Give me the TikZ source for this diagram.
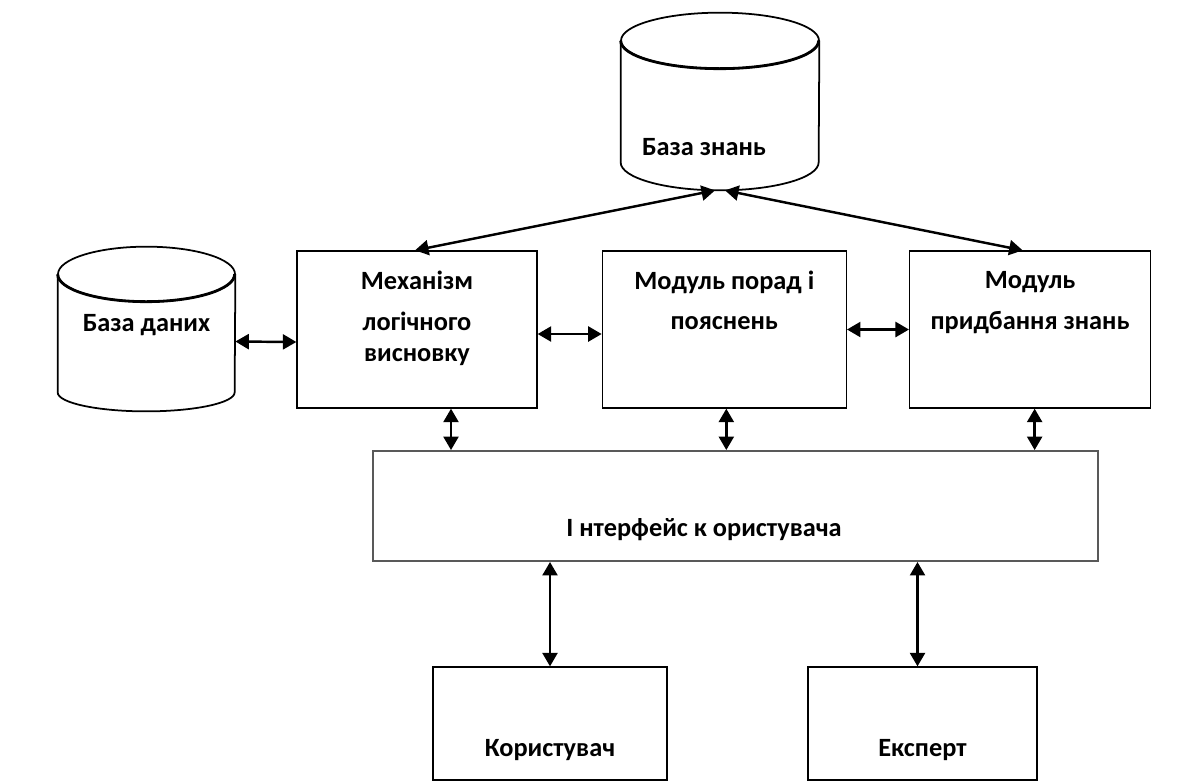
\documentclass[tikz,border=0pt]{standalone}
\usepackage{fontspec}
\setmainfont{Carlito}
\usepackage{tikz}
\usetikzlibrary{arrows.meta,positioning,calc}

\begin{document}
\begin{tikzpicture}[
  font=\fontsize{15}{23}\selectfont\bfseries,
  box/.style     = {draw=black, line width=0.75pt, inner sep=0pt,
                    minimum height=3.14cm},
  cylbox/.style  = {inner sep=0pt},
  cylline/.style = {draw=black, line width=1.0pt},
  capfront/.style= {draw=black, line width=1.6pt},
  txt/.style     = {align=center, inner sep=0pt, text=black},
  arr/.style     = {{Triangle[length=0.27cm,width=0.30cm]}-{Triangle[length=0.27cm,width=0.30cm]},
                    line width=1.4pt},
]
\useasboundingbox (0,0) rectangle (24,-15.66);

%── Stores ───────────────────────────────────────────────────────────────────
\node[cylbox, minimum width=3.96cm, minimum height=3.54cm,
      label={[txt, xshift=-0.32cm, yshift=-0.91cm]center:База знань}]
      (kb) at (14.40,-2.03) {};
\node[cylbox, minimum width=3.54cm, minimum height=3.28cm,
      label={[txt, yshift=0.08cm]center:База даних}]
      (db) at (2.93,-6.58) {};

% knowledge base outline: top cap, its front edge, then body
\draw[cylline] ($(kb.north)+(0,-0.56)$) ellipse (1.98 and 0.56);
\draw[capfront] ($(kb.north west)+(0,-0.56)$) arc (180:360:1.98 and 0.56);
\draw[cylline] ($(kb.north west)+(0,-0.56)$) -- ($(kb.south west)+(0,0.56)$)
    arc (180:360:1.98 and 0.56) -- ($(kb.north east)+(0,-0.56)$);
% data base outline: top cap, its front edge, then body
\draw[cylline] ($(db.north)+(0,-0.55)$) ellipse (1.77 and 0.55);
\draw[capfront] ($(db.north west)+(0,-0.55)$) arc (180:360:1.77 and 0.55);
\draw[cylline] ($(db.north west)+(0,-0.55)$) -- ($(db.south west)+(0,0.38)$)
    arc (180:360:1.77 and 0.38) -- ($(db.north east)+(0,-0.55)$);

%── Row of modules ───────────────────────────────────────────────────────────
\node[box, minimum width=4.80cm,
      label={[txt, yshift=0.22cm]center:{Механізм\\логічного\\[-5pt]висновку}}]
      (mech) at (8.34,-6.59) {};
\node[box, minimum width=4.88cm, right=1.28cm of mech,
      label={[txt, yshift=0.58cm]center:{Модуль порад і\\пояснень}}]
      (advice) {};
\node[box, minimum width=4.82cm, right=1.24cm of advice,
      label={[txt, yshift=0.54cm]center:{Модуль\\придбання знань}}]
      (acq) {};

%── Interface and its users ──────────────────────────────────────────────────
\node[box, minimum width=14.50cm, minimum height=2.20cm,
      draw=black!65, line width=1.1pt,
      label={[txt, xshift=-0.63cm, yshift=-0.48cm]center:І нтерфейс к ористувача}]
      (iface) at (14.71,-10.12) {};
\node[box, minimum width=4.68cm, minimum height=2.26cm,
      label={[txt, yshift=-0.53cm]center:Користувач}]
      (user) at (11.00,-14.47) {};
\node[box, minimum width=4.58cm, minimum height=2.26cm,
      label={[txt, yshift=-0.53cm]center:Експерт}]
      (expert) at (18.45,-14.47) {};

%── Connectors ───────────────────────────────────────────────────────────────
\draw[arr] ([xshift=-0.10cm]kb.south) -- ([xshift=-0.04cm]mech.north);
\draw[arr] ([xshift=0.10cm]kb.south)  -- ([xshift=-0.15cm]acq.north);

\draw[arr] ([yshift=-0.25cm]db.east)   -- ([yshift=-0.25cm]mech.west);
\draw[arr] ([yshift=-0.09cm]mech.east) -- ([yshift=-0.09cm]advice.west);
\draw[arr] (advice.east) -- (acq.west);

\draw[arr] ([xshift=0.68cm]mech.south)   -- ([xshift=0.68cm]mech.south |- iface.north);
\draw[arr] ([xshift=0.04cm]advice.south) -- ([xshift=0.04cm]advice.south |- iface.north);
\draw[arr] ([xshift=0.09cm]acq.south)    -- ([xshift=0.09cm]acq.south |- iface.north);

\draw[arr] (user.north |- iface.south) -- (user.north);
\draw[arr] ([xshift=-0.10cm]expert.north |- iface.south) -- ([xshift=-0.10cm]expert.north);

\end{tikzpicture}
\end{document}
